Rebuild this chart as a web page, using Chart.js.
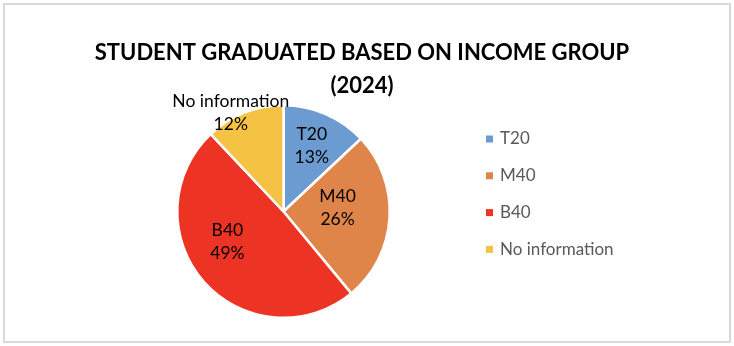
<!DOCTYPE html>
<html>
<head>
<meta charset="utf-8">
<style>
  html, body { margin: 0; padding: 0; background: #ffffff; }
  #wrap { width: 734px; height: 346px; position: relative; }
  canvas { display: block; }
</style>
<script src="https://cdn.jsdelivr.net/npm/chart.js@4.4.1/dist/chart.umd.min.js"></script>
</head>
<body>
<div id="wrap"><canvas id="c" width="734" height="346"></canvas></div>
<script>
// Graduates by household income group, 2024 (percent of total)
const categories = ['T20', 'M40', 'B40', 'No information'];
const shares = [13, 26, 49, 12];
const sliceColors = ['#6B9BD1', '#E0854A', '#EC3324', '#F6C243'];
const titleLines = ['STUDENT GRADUATED BASED ON INCOME GROUP', '(2024)'];

const FONT = 'Lato, "Open Sans", sans-serif';

// Where each slice's label sits: fraction of the radius and a turn (deg) away from the slice's middle
const labelPlacement = [
  { r: 0.67, turn: 0 },
  { r: 0.51, turn: -7 },
  { r: 0.60, turn: 13 },
  { r: 1.05, turn: -6.6 }
];

const framePlugin = {
  id: 'frame',
  beforeDraw(chart) {
    const ctx = chart.ctx;
    ctx.save();
    ctx.fillStyle = '#ffffff';
    ctx.fillRect(0, 0, chart.width, chart.height);
    ctx.strokeStyle = '#d9d9d9';
    ctx.lineWidth = 2;
    ctx.strokeRect(4, 4, chart.width - 8, chart.height - 8);
    ctx.restore();
  }
};

const titlePlugin = {
  id: 'titleBlock',
  afterDraw(chart) {
    const ctx = chart.ctx;
    ctx.save();
    ctx.fillStyle = '#000000';
    ctx.font = 'bold 22px ' + FONT;
    ctx.textAlign = 'center';
    ctx.textBaseline = 'middle';
    ctx.fillText(titleLines[0], 362, 53);
    ctx.fillText(titleLines[1], 362, 86);
    ctx.restore();
  }
};

const sliceLabelPlugin = {
  id: 'sliceLabels',
  afterDatasetsDraw(chart) {
    const ctx = chart.ctx;
    const meta = chart.getDatasetMeta(0);
    const values = chart.data.datasets[0].data;
    const total = values.reduce((a, b) => a + b, 0);
    ctx.save();
    ctx.fillStyle = '#000000';
    ctx.font = '17.5px ' + FONT;
    ctx.textAlign = 'center';
    ctx.textBaseline = 'middle';
    meta.data.forEach((arc, i) => {
      const p = arc.getProps(['x', 'y', 'startAngle', 'endAngle', 'outerRadius'], true);
      const place = labelPlacement[i];
      const mid = (p.startAngle + p.endAngle) / 2 + place.turn * Math.PI / 180;
      const cx = p.x + Math.cos(mid) * p.outerRadius * place.r;
      const cy = p.y + Math.sin(mid) * p.outerRadius * place.r;
      const pct = Math.round(values[i] / total * 100) + '%';
      ctx.fillText(chart.data.labels[i], cx, cy - 11.5);
      ctx.fillText(pct, cx, cy + 11.5);
    });
    ctx.restore();
  }
};

const legendPlugin = {
  id: 'sideLegend',
  afterDraw(chart) {
    const ctx = chart.ctx;
    const colors = chart.data.datasets[0].backgroundColor;
    ctx.save();
    ctx.font = '17px ' + FONT;
    ctx.textAlign = 'left';
    ctx.textBaseline = 'middle';
    chart.data.labels.forEach((lab, i) => {
      const y = 139 + i * 36.8;
      ctx.fillStyle = colors[i];
      ctx.fillRect(486, y - 3.5, 7, 7);
      ctx.fillStyle = '#595959';
      ctx.fillText(lab, 500, y);
    });
    ctx.restore();
  }
};

new Chart(document.getElementById('c'), {
  type: 'pie',
  data: {
    labels: categories,
    datasets: [{
      data: shares,
      backgroundColor: sliceColors,
      borderColor: '#ffffff',
      borderWidth: 2.5
    }]
  },
  options: {
    responsive: false,
    animation: false,
    layout: { padding: { left: 176, right: 343, top: 104, bottom: 27 } },
    plugins: {
      legend: { display: false },
      title: { display: false },
      tooltip: { enabled: false }
    }
  },
  plugins: [framePlugin, sliceLabelPlugin, titlePlugin, legendPlugin]
});
</script>
</body>
</html>
